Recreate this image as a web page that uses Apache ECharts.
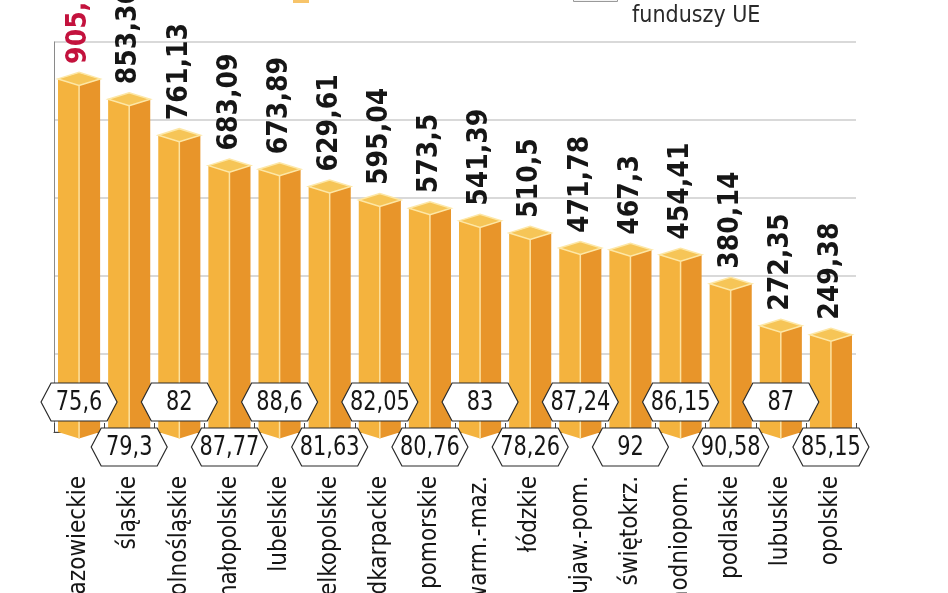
<!DOCTYPE html>
<html>
<head>
<meta charset="utf-8">
<script src="https://cdn.jsdelivr.net/npm/echarts@6/dist/echarts.min.js"></script>
<style>
html,body{margin:0;padding:0;background:#fff;}
#chart{width:948px;height:593px;}
</style>
</head>
<body>
<div id="chart"></div>
<script>
const categories = ['mazowieckie','śląskie','dolnośląskie','małopolskie','lubelskie','wielkopolskie','podkarpackie','pomorskie','warm.-maz.','łódzkie','kujaw.-pom.','świętokrz.','zachodniopom.','podlaskie','lubuskie','opolskie'];
const values = [905.38, 853.36, 761.13, 683.09, 673.89, 629.61, 595.04, 573.5, 541.39, 510.5, 471.78, 467.3, 454.41, 380.14, 272.35, 249.38];
const shares = [75.6, 79.3, 82, 87.77, 88.6, 81.63, 82.05, 80.76, 83, 78.26, 87.24, 92, 86.15, 90.58, 87, 85.15];
const legendNote = 'funduszy UE';

const FONT = '"DejaVu Sans Condensed", "DejaVu Sans", sans-serif';
const fmt = v => String(v).replace('.', ',');

const chart = echarts.init(document.getElementById('chart'), null, {renderer: 'canvas'});

function renderBar(params, api) {
  const i = api.value(0), v = api.value(1);
  const top = api.coord([i, v]);
  const base = api.coord([i, 0]);
  const bw = api.size([1, 0])[0];
  const hw = bw * 0.42;
  const cx = top[0], ty = top[1], by = base[1];
  const d = 6.5;
  return {
    type: 'group',
    children: [
      {type: 'polygon', shape: {points: [[cx - hw, ty], [cx, ty + d], [cx, by + d], [cx - hw, by]]},
        style: {fill: '#f4b33e'}},
      {type: 'polygon', shape: {points: [[cx, ty + d], [cx + hw, ty], [cx + hw, by], [cx, by + d]]},
        style: {fill: '#e8952a'}},
      {type: 'polygon', shape: {points: [[cx - hw, ty], [cx, ty - d], [cx + hw, ty], [cx, ty + d]]},
        style: {fill: '#f6c557', stroke: '#fde7a6', lineWidth: 1.5}},
      {type: 'line', shape: {x1: cx, y1: ty + d, x2: cx, y2: by + d},
        style: {stroke: '#fde2a0', lineWidth: 1.5}},
      {type: 'text', x: cx, y: ty - 15, rotation: Math.PI / 2,
        style: {text: fmt(values[i]), x: 0, y: 0, align: 'left', verticalAlign: 'middle',
          fill: i === 0 ? '#c3123d' : '#161616', font: 'bold 28px ' + FONT}}
    ]
  };
}

function renderHex(params, api) {
  const i = api.value(0);
  const base = api.coord([i, 0]);
  const cx = base[0];
  const cy = (i % 2 === 0) ? base[1] - 30 : base[1] + 15;
  const w = 38, f = 28, h = 19;
  return {
    type: 'group',
    children: [
      {type: 'polygon', shape: {points: [[cx - w, cy], [cx - f, cy - h], [cx + f, cy - h], [cx + w, cy], [cx + f, cy + h], [cx - f, cy + h]]},
        style: {fill: '#ffffff', stroke: '#2a2a2a', lineWidth: 1.2}},
      {type: 'text', x: cx, y: cy + 1, scaleX: 0.86, scaleY: 1,
        style: {text: fmt(shares[i]), x: 0, y: 0, align: 'center', verticalAlign: 'middle',
          fill: '#161616', font: '27px ' + FONT}}
    ]
  };
}

const option = {
  backgroundColor: '#ffffff',
  animation: false,
  grid: {left: 54, right: 92, top: 42, bottom: 161, containLabel: false, outerBoundsMode: 'none'},
  xAxis: {
    type: 'category',
    data: categories,
    boundaryGap: true,
    axisLine: {show: true, lineStyle: {color: '#444', width: 1}},
    axisTick: {show: true, inside: true, length: 9, lineStyle: {color: '#444'}},
    axisLabel: {rotate: 90, margin: 44, interval: 0, color: '#161616', fontSize: 24, fontFamily: FONT}
  },
  yAxis: {
    type: 'value',
    min: 0, max: 1000, interval: 200,
    axisLine: {show: true, lineStyle: {color: '#8a8a8a', width: 1}},
    axisTick: {show: false},
    axisLabel: {show: false},
    splitLine: {show: true, lineStyle: {color: '#cdcdcd', width: 1.5}}
  },
  graphic: [
    {type: 'rect', left: 293, top: -8, shape: {width: 16, height: 11}, style: {fill: '#f7c46a'}},
    {type: 'rect', left: 573, top: -8, shape: {width: 44, height: 9}, style: {fill: '#f4f4f4', stroke: '#9a9a9a', lineWidth: 1}},
    {type: 'text', left: 632, top: 5, style: {text: legendNote, fill: '#2a2a2a', font: '23px ' + FONT}}
  ],
  series: [
    {type: 'custom', renderItem: renderBar, z: 2, clip: false,
      encode: {x: 0, y: 1},
      data: values.map((v, i) => [i, v])},
    {type: 'custom', renderItem: renderHex, z: 3, clip: false,
      encode: {x: 0, y: 1},
      data: shares.map((s, i) => [i, 0])}
  ]
};
chart.setOption(option);
</script>
</body>
</html>
